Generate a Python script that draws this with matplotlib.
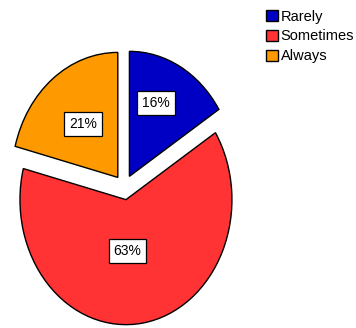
import numpy as np
import matplotlib
matplotlib.use('Agg')
import matplotlib.pyplot as plt

plt.rcParams['font.family'] = ['Liberation Sans', 'DejaVu Sans']

categories = ['Rarely', 'Sometimes', 'Always']
shares = [16, 63, 21]
colors = ['#0000C4', '#FF3333', '#FF9900']

fig = plt.figure(figsize=(3.56, 3.28), dpi=100)
W, H = 356, 328
# axes sized so one data unit is 106 px wide and 125 px tall (stretched pie)
ax = fig.add_axes([0.3 / W, 0.7 / H, 248 / W, 290 / H])

wedges, texts, autotexts = ax.pie(
    shares, colors=colors, startangle=90, counterclock=False,
    explode=[0.1, 0.1, 0.1], autopct='%d%%',
    wedgeprops=dict(edgecolor='black', linewidth=1.0),
    textprops=dict(fontsize=10, color='black'))

ax.set_aspect('auto')
ax.set_xlim(-1.17, 1.17)
ax.set_ylim(-1.12, 1.2)

# move each percentage box along its wedge's bisector
label_dist = [0.64, 0.41, 0.54]
label_turn = [6, -7, 0]  # degrees off the bisector
for w, t, d, turn in zip(wedges, autotexts, label_dist, label_turn):
    mid = np.deg2rad((w.theta1 + w.theta2) / 2 + turn)
    cx, cy = w.center
    t.set_position((cx + d * np.cos(mid), cy + d * np.sin(mid)))
    t.set_bbox(dict(boxstyle='square,pad=0.36', facecolor='white',
                    edgecolor='black', linewidth=0.9))

fig.legend(wedges, categories, loc='upper left',
           bbox_to_anchor=(266 / W, 1 - 9.5 / H), frameon=False,
           fontsize=10.5, borderpad=0, borderaxespad=0,
           handlelength=0.8, handleheight=0.8, handletextpad=0.2,
           labelspacing=0.4)

fig.savefig('out.png', dpi=100)
